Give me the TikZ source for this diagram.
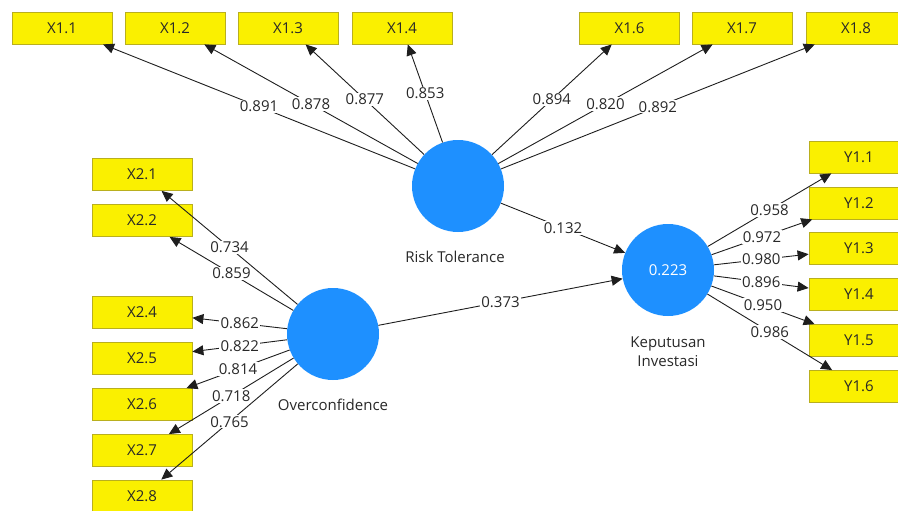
\documentclass[tikz,border=0pt]{standalone}
\usepackage{fontspec}
\setmainfont{Open Sans}
\usetikzlibrary{arrows.meta}
\definecolor{boxyellow}{RGB}{250,240,0}
\definecolor{boxedge}{RGB}{185,175,30}
\definecolor{lvblue}{RGB}{30,144,255}
\definecolor{linegray}{RGB}{30,30,30}
\definecolor{txtgray}{RGB}{40,40,40}
\tikzset{
  ind/.style={draw=boxedge, line width=0.8pt, fill=boxyellow, minimum width=100pt, minimum height=32pt, inner sep=0pt, text=txtgray, font=\fontsize{15}{17}\selectfont},
  lv/.style={circle, fill=lvblue, minimum size=92pt, inner sep=0pt, text=white, font=\fontsize{15}{17}\selectfont},
  lvlabel/.style={text=txtgray, font=\fontsize{15}{19}\selectfont, align=center},
  conn/.style={draw=linegray, line width=0.9pt, -{Triangle[length=11pt,width=10pt]}},
  wt/.style={midway, fill=white, inner sep=1.2pt, text=txtgray, font=\fontsize{15}{17}\selectfont},
}
\begin{document}
\begin{tikzpicture}[x=1pt,y=-1pt]
\useasboundingbox (0,0) rectangle (898,511);
% latent variables
\node[lv] (rt) at (458,186) {};
\node[lv] (oc) at (333,334) {};
\node[lv] (ki) at (668,270) {0.223};
\node[lvlabel] (rtl) at (455,257) {Risk Tolerance};
\node[lvlabel] (ocl) at (333,405) {Overconfidence};
\node[lvlabel] (kil) at (668,352) {Keputusan\\Investasi};
% X1 indicators
\node[ind] (x11) at (62,28) {X1.1};
\node[ind] (x12) at (175,28) {X1.2};
\node[ind] (x13) at (288,28) {X1.3};
\node[ind] (x14) at (402,28) {X1.4};
\node[ind] (x16) at (629.5,28) {X1.6};
\node[ind] (x17) at (742,28) {X1.7};
\node[ind] (x18) at (856,28) {X1.8};
% X2 indicators
\node[ind] (x21) at (142,174.5) {X2.1};
\node[ind] (x22) at (142,220.5) {X2.2};
\node[ind] (x24) at (142,312) {X2.4};
\node[ind] (x25) at (142,358) {X2.5};
\node[ind] (x26) at (142,404.5) {X2.6};
\node[ind] (x27) at (142,450.5) {X2.7};
\node[ind] (x28) at (142,496) {X2.8};
% Y1 indicators
\node[ind] (y11) at (859,157) {Y1.1};
\node[ind] (y12) at (859,203) {Y1.2};
\node[ind] (y13) at (859,248.5) {Y1.3};
\node[ind] (y14) at (859,294.5) {Y1.4};
\node[ind] (y15) at (859,340.5) {Y1.5};
\node[ind] (y16) at (859,386.5) {Y1.6};
% outer loadings
\draw[conn] (rt) -- (x11) node[wt] {0.891};
\draw[conn] (rt) -- (x12) node[wt] {0.878};
\draw[conn] (rt) -- (x13) node[wt] {0.877};
\draw[conn] (rt) -- (x14) node[wt] {0.853};
\draw[conn] (rt) -- (x16) node[wt] {0.894};
\draw[conn] (rt) -- (x17) node[wt] {0.820};
\draw[conn] (rt) -- (x18) node[wt] {0.892};
\draw[conn] (oc) -- (x21) node[wt] {0.734};
\draw[conn] (oc) -- (x22) node[wt] {0.859};
\draw[conn] (oc) -- (x24) node[wt] {0.862};
\draw[conn] (oc) -- (x25) node[wt] {0.822};
\draw[conn] (oc) -- (x26) node[wt] {0.814};
\draw[conn] (oc) -- (x27) node[wt] {0.718};
\draw[conn] (oc) -- (x28) node[wt] {0.765};
\draw[conn] (ki) -- (y11) node[wt] {0.958};
\draw[conn] (ki) -- (y12) node[wt] {0.972};
\draw[conn] (ki) -- (y13) node[wt] {0.980};
\draw[conn] (ki) -- (y14) node[wt] {0.896};
\draw[conn] (ki) -- (y15) node[wt] {0.950};
\draw[conn] (ki) -- (y16) node[wt] {0.986};
% path coefficients
\draw[conn] (rt) -- (ki) node[wt] {0.132};
\draw[conn] (oc) -- (ki) node[wt] {0.373};
\end{tikzpicture}
\end{document}
